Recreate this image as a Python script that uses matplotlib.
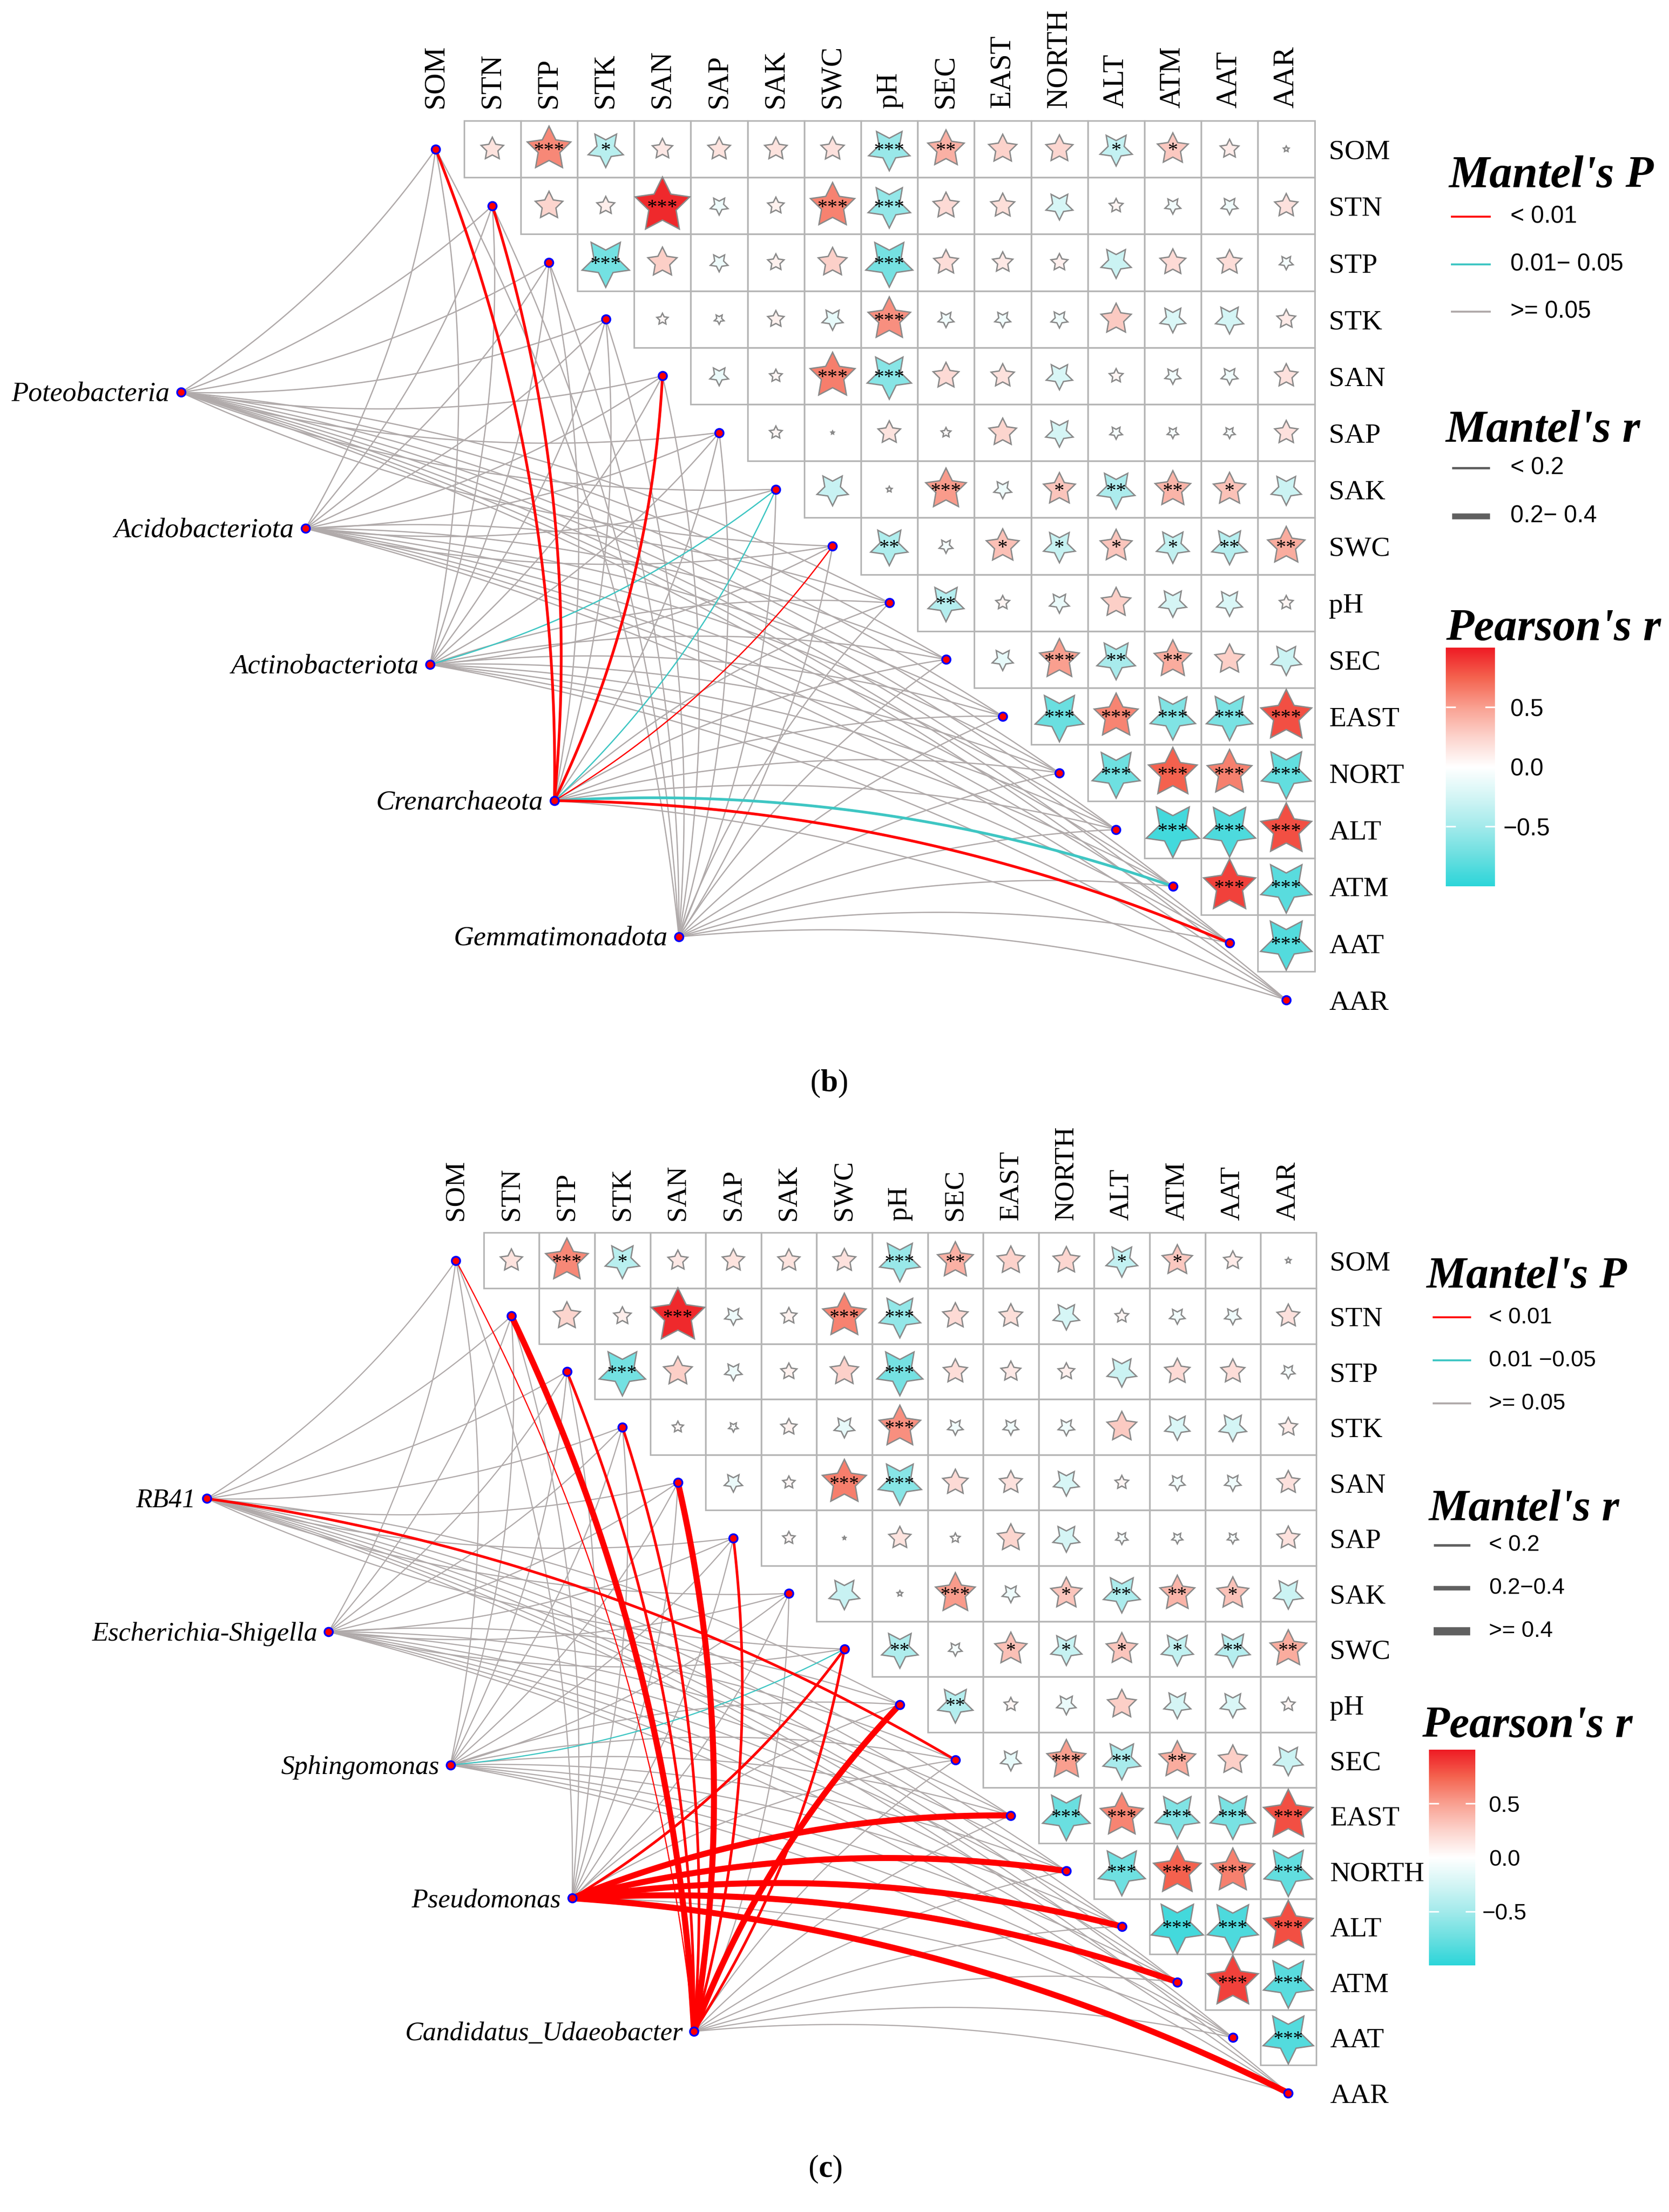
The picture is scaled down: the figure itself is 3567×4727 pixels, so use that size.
import numpy as np
import matplotlib.pyplot as plt
from matplotlib.colors import LinearSegmentedColormap, Normalize
from matplotlib.colorbar import ColorbarBase
from matplotlib.lines import Line2D
from matplotlib.patches import Polygon, Rectangle

plt.rcParams["mathtext.fontset"] = "custom"
plt.rcParams["mathtext.rm"] = "Liberation Serif"
plt.rcParams["mathtext.bf"] = "Liberation Serif:bold"

W, H = 3567, 4727
SERIF = ["Liberation Serif", "DejaVu Serif"]
SANS = ["Liberation Sans", "DejaVu Sans"]

# ---------------- data ----------------
env = ["SOM", "STN", "STP", "STK", "SAN", "SAP", "SAK", "SWC", "pH", "SEC",
       "EAST", "NORTH", "ALT", "ATM", "AAT", "AAR"]
row_labels_b = env[:11] + ["NORT"] + env[12:]
row_labels_c = env

# Pearson's r, upper triangle: row i holds columns i+1 .. 15
pearson_r = [
    [0.16, 0.60, -0.39, 0.13, 0.16, 0.16, 0.17, -0.54, 0.42, 0.25, 0.23, -0.33, 0.30, 0.11, 0.01],
    [0.24, 0.10, 0.95, -0.10, 0.085, 0.62, -0.57, 0.21, 0.18, -0.23, 0.06, -0.08, -0.09, 0.17],
    [-0.71, 0.27, -0.10, 0.085, 0.26, -0.70, 0.19, 0.13, 0.09, -0.29, 0.21, 0.19, -0.06],
    [0.04, -0.03, 0.085, -0.14, 0.57, -0.08, -0.08, -0.09, 0.29, -0.21, -0.25, 0.11],
    [-0.11, 0.05, 0.64, -0.62, 0.21, 0.17, -0.22, 0.06, -0.08, -0.09, 0.17],
    [0.05, 0.003, 0.16, 0.03, 0.24, -0.24, -0.05, -0.04, -0.04, 0.17],
    [-0.31, 0.01, 0.52, -0.10, 0.32, -0.45, 0.40, 0.33, -0.29],
    [-0.44, -0.06, 0.34, -0.32, 0.32, -0.34, -0.40, 0.44],
    [-0.41, 0.06, -0.125, 0.27, -0.24, -0.21, 0.06],
    [-0.14, 0.50, -0.47, 0.44, 0.27, -0.29],
    [-0.75, 0.61, -0.65, -0.68, 0.82],
    [-0.73, 0.75, 0.63, -0.78],
    [-0.90, -0.86, 0.82],
    [0.86, -0.82],
    [-0.84],
]

signif = [
    ["", "***", "*", "", "", "", "", "***", "**", "", "", "*", "*", "", ""],
    ["", "", "***", "", "", "***", "***", "", "", "", "", "", "", ""],
    ["***", "", "", "", "", "***", "", "", "", "", "", "", ""],
    ["", "", "", "", "***", "", "", "", "", "", "", ""],
    ["", "", "***", "***", "", "", "", "", "", "", ""],
    ["", "", "", "", "", "", "", "", "", ""],
    ["", "", "***", "", "*", "**", "**", "*", ""],
    ["**", "", "*", "*", "*", "*", "**", "**"],
    ["**", "", "", "", "", "", ""],
    ["", "***", "**", "**", "", ""],
    ["***", "***", "***", "***", "***"],
    ["***", "***", "***", "***"],
    ["***", "***", "***"],
    ["***", "***"],
    ["***"],
]

# Mantel tests: one code per environmental variable (order of env)
# P class: r = < 0.01, c = 0.01-0.05, g = >= 0.05 ; r class: 0 < 0.2, 1 0.2-0.4, 2 >= 0.4
taxa_b = ["Poteobacteria", "Acidobacteriota", "Actinobacteriota", "Crenarchaeota", "Gemmatimonadota"]
mantel_p_b = ["gggggggggggggggg",
              "gggggggggggggggg",
              "ggggggcggggggggg",
              "rrggrgcrgggggcrg",
              "gggggggggggggggg"]
mantel_r_b = ["0000000000000000",
              "0000000000000000",
              "0000000000000000",
              "1100100000000110",
              "0000000000000000"]

taxa_c = ["RB41", "Escherichia-Shigella", "Sphingomonas", "Pseudomonas", "Candidatus_Udaeobacter"]
mantel_p_c = ["gggggggggrgggggg",
              "gggggggggggggggg",
              "gggggggcgggggggg",
              "gggggggrggrrrrgr",
              "rrrrrrgrrggggggg"]
mantel_r_c = ["0000000001000000",
              "0000000000000000",
              "0000000000000000",
              "0000000100222202",
              "0211210120000000"]

p_labels_b = ["< 0.01", "0.01\u2212 0.05", ">= 0.05"]
r_labels_b = ["< 0.2", "0.2\u2212 0.4"]
p_labels_c = ["< 0.01", "0.01 \u22120.05", ">= 0.05"]
r_labels_c = ["< 0.2", "0.2\u22120.4", ">= 0.4"]
cbar_ticks = [-0.5, 0.0, 0.5]

# ---------------- styles ----------------
link_colors = {"r": "#FF0000", "c": "#3EC6C3", "g": "#B0AAAA"}
link_order = {"g": 1, "c": 2, "r": 3}

cmap = LinearSegmentedColormap.from_list(
    "pearson",
    [(0.0, "#2CD5D9"), (0.125, "#6ADFE0"), (0.25, "#A3EAEB"), (0.375, "#D3F5F5"),
     (0.5, "#FFFFFF"), (0.625, "#FCD3CC"), (0.75, "#F9A091"), (0.875, "#F4634F"),
     (1.0, "#EE1B24")])
norm = Normalize(-1, 1)

panels = [
    dict(x0=931.0, y0=318.5, cell=121.2, top=0.0, bottom=2363.5,
         taxa=taxa_b, p=mantel_p_b, r=mantel_r_b, rows=row_labels_b,
         widths=[0.65, 1.4], col_fs=15, row_fs=14.5, taxa_fs=14.3, star_fs=10.5,
         caption="b", cap_xy=(1771, 2315),
         titles=[("Mantel's P", 3096, 400), ("Mantel's r", 3089, 944), ("Pearson's r", 3090, 1368)],
         p_y=[463, 565, 666], r_y=[1000, 1103], key_x=(3103, 3184), lab_x=3228,
         key_w=[1.2, 3.0], p_labels=p_labels_b, r_labels=r_labels_b,
         cbar=(3090, 1384, 3195, 1894), title_fs=23.5, lab_fs=12.2, cb_pad=16.3),
    dict(x0=974.4, y0=2693.7, cell=118.6, top=2363.5, bottom=4727.0,
         taxa=taxa_c, p=mantel_p_c, r=mantel_r_c, rows=row_labels_c,
         widths=[0.6, 1.35, 3.1], col_fs=14.3, row_fs=14.3, taxa_fs=13.8, star_fs=10.2,
         caption="c", cap_xy=(1764, 4635),
         titles=[("Mantel's P", 3048, 2752), ("Mantel's r", 3053, 3249), ("Pearson's r", 3039, 3712)],
         p_y=[2815, 2907, 2999], r_y=[3302, 3394, 3486], key_x=(3064, 3142), lab_x=3182,
         key_w=[1.3, 2.3, 4.2], p_labels=p_labels_c, r_labels=r_labels_c,
         cbar=(3054, 3739, 3153, 4200), title_fs=23, lab_fs=11.6, cb_pad=14.9),
]


def star_xy(cx, cy, r, ratio=0.5):
    big = 0.52 * np.sqrt(abs(r))
    k = np.arange(10)
    ang = np.deg2rad(90 + 36 * k)
    rad = np.where(k % 2 == 0, big, big * ratio)
    flip = -1 if r >= 0 else 1   # negative r -> star upside down
    return np.column_stack([cx + rad * np.cos(ang), cy + flip * rad * np.sin(ang)])


def curve(ax, p0, p2, sign, **kw):
    p0 = np.array(p0, float)
    p2 = np.array(p2, float)
    dx, dy = p2 - p0
    ctrl = (p0 + p2) / 2 + sign * 0.1 * np.array([-dy, dx])
    t = np.linspace(0, 1, 100)[:, None]
    pts = (1 - t) ** 2 * p0 + 2 * (1 - t) * t * ctrl + t ** 2 * p2
    ax.plot(pts[:, 0], pts[:, 1], solid_capstyle="butt", **kw)


def fx(x):
    return x / W


def fy(y):
    return 1 - y / H


fig = plt.figure(figsize=(W / 300, H / 300), dpi=300)

for pn in panels:
    x0, y0, cell = pn["x0"], pn["y0"], pn["cell"]
    ax = fig.add_axes([0, fy(pn["bottom"]), 1, (pn["bottom"] - pn["top"]) / H])
    ax.set_xlim((0 - x0) / cell, (W - x0) / cell)
    ax.set_ylim((pn["bottom"] - y0) / cell, (pn["top"] - y0) / cell)
    ax.axis("off")
    n = len(env)

    # correlation matrix: grid + stars
    for i, row in enumerate(pearson_r):
        for k, val in enumerate(row):
            j = i + 1 + k
            ax.add_patch(Rectangle((j - 0.5, i - 0.5), 1, 1, fill=False,
                                   ec="#B4B4B4", lw=0.8, zorder=2))
            ax.add_patch(Polygon(star_xy(j, i, val), closed=True,
                                 fc=cmap(norm(val)), ec="#8A8A8A", lw=0.7, zorder=3))
            mark = signif[i][k]
            if mark:
                ax.text(j, i + 0.04, mark, ha="center", va="center",
                        fontsize=pn["star_fs"], family=SERIF, zorder=4)

    # axis labels
    for j, name in enumerate(env):
        ax.text(j, -0.72, name, rotation=90, ha="center", va="bottom",
                fontsize=pn["col_fs"], family=SERIF)
    for i, name in enumerate(pn["rows"]):
        ax.text(n - 0.5 + 0.25, i + 0.06, name, ha="left", va="center",
                fontsize=pn["row_fs"], family=SERIF)

    # taxa positions
    tx = [-4.49 + 2.195 * k for k in range(len(pn["taxa"]))]
    ty = [4.29 + 2.40 * k for k in range(len(pn["taxa"]))]

    # Mantel links
    links = []
    for t_i in range(len(pn["taxa"])):
        for e_i in range(n):
            links.append((link_order[pn["p"][t_i][e_i]], t_i, e_i))
    links.sort()
    for order, t_i, e_i in links:
        pc = pn["p"][t_i][e_i]
        wc = int(pn["r"][t_i][e_i])
        sign = 1 if e_i < n / 2 else -1
        curve(ax, (tx[t_i], ty[t_i]), (e_i, e_i), sign,
              color=link_colors[pc], lw=pn["widths"][wc], zorder=order)

    # nodes
    ax.plot(range(n), range(n), "o", ms=4.3, mfc="#FF0000", mec="#0000FF",
            mew=0.9, zorder=6, ls="none")
    ax.plot(tx, ty, "o", ms=4.3, mfc="#FF0000", mec="#0000FF", mew=0.9,
            zorder=6, ls="none")
    for name, x, y in zip(pn["taxa"], tx, ty):
        ax.text(x - 0.2, y + 0.04, name, ha="right", va="center", fontsize=pn["taxa_fs"],
                family=SERIF, style="italic")

    # caption
    fig.text(fx(pn["cap_xy"][0]), fy(pn["cap_xy"][1]), "($\\mathbf{%s}$)" % pn["caption"],
             ha="center", va="center", fontsize=16, family=SERIF)

    # legends
    for title, lx, ly in pn["titles"]:
        fig.text(fx(lx), fy(ly), title, ha="left", va="baseline",
                 fontsize=pn["title_fs"], family=SERIF, style="italic", weight="bold")
    kx0, kx1 = pn["key_x"]
    for code, y, lab in zip("rcg", pn["p_y"], pn["p_labels"]):
        fig.add_artist(Line2D([fx(kx0), fx(kx1)], [fy(y), fy(y)], color=link_colors[code],
                              lw=1.0, transform=fig.transFigure))
        fig.text(fx(pn["lab_x"]), fy(y), lab, ha="left", va="center",
                 fontsize=pn["lab_fs"], family=SANS)
    for lw, y, lab in zip(pn["key_w"], pn["r_y"], pn["r_labels"]):
        fig.add_artist(Line2D([fx(kx0), fx(kx1)], [fy(y), fy(y)], color="#606060",
                              lw=lw, transform=fig.transFigure, solid_capstyle="butt"))
        fig.text(fx(pn["lab_x"]), fy(y), lab, ha="left", va="center",
                 fontsize=pn["lab_fs"], family=SANS)

    cx0, cy0, cx1, cy1 = pn["cbar"]
    cax = fig.add_axes([fx(cx0), fy(cy1), (cx1 - cx0) / W, (cy1 - cy0) / H])
    cb = ColorbarBase(cax, cmap=cmap, norm=norm, ticks=cbar_ticks)
    cb.outline.set_visible(False)
    cax.tick_params(axis="y", direction="in", length=5, width=0.8, color="white",
                    left=True, right=True, labelleft=False, labelright=True,
                    pad=pn["cb_pad"], labelsize=pn["lab_fs"])
    cax.set_yticklabels(["\u22120.5", "0.0", "0.5"])
    for lbl in cax.get_yticklabels():
        lbl.set_ha("center")
        lbl.set_family(SANS)

fig.savefig("out.png", dpi=300, facecolor="white")
